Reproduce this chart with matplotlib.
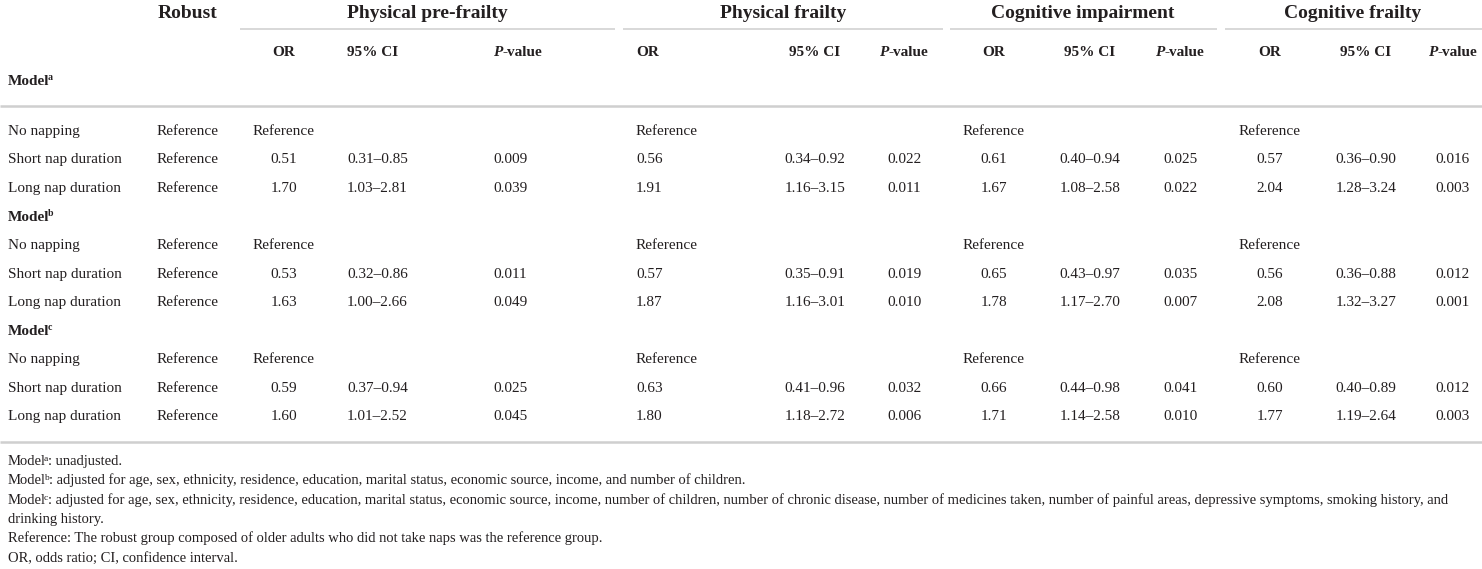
import matplotlib
matplotlib.use("Agg")
import matplotlib.pyplot as plt

# ---------------- data ----------------
groups = ["Robust", "Physical pre-frailty", "Physical frailty", "Cognitive impairment", "Cognitive frailty"]
sub_headers = ["OR", "95% CI", "P-value"]
model_sups = ["a", "b", "c"]
row_labels = ["No napping", "Short nap duration", "Long nap duration"]
robust_vals = ["Reference", "Reference", "Reference"]

# per outcome: [model][row] -> (OR, CI, P); first row of each model is the reference
pre_or = [["Reference", "0.51", "1.70"], ["Reference", "0.53", "1.63"], ["Reference", "0.59", "1.60"]]
pre_ci = [["", "0.31–0.85", "1.03–2.81"], ["", "0.32–0.86", "1.00–2.66"], ["", "0.37–0.94", "1.01–2.52"]]
pre_p = [["", "0.009", "0.039"], ["", "0.011", "0.049"], ["", "0.025", "0.045"]]

pf_or = [["Reference", "0.56", "1.91"], ["Reference", "0.57", "1.87"], ["Reference", "0.63", "1.80"]]
pf_ci = [["", "0.34–0.92", "1.16–3.15"], ["", "0.35–0.91", "1.16–3.01"], ["", "0.41–0.96", "1.18–2.72"]]
pf_p = [["", "0.022", "0.011"], ["", "0.019", "0.010"], ["", "0.032", "0.006"]]

ci_or = [["Reference", "0.61", "1.67"], ["Reference", "0.65", "1.78"], ["Reference", "0.66", "1.71"]]
ci_ci = [["", "0.40–0.94", "1.08–2.58"], ["", "0.43–0.97", "1.17–2.70"], ["", "0.44–0.98", "1.14–2.58"]]
ci_p = [["", "0.025", "0.022"], ["", "0.035", "0.007"], ["", "0.041", "0.010"]]

cf_or = [["Reference", "0.57", "2.04"], ["Reference", "0.56", "2.08"], ["Reference", "0.60", "1.77"]]
cf_ci = [["", "0.36–0.90", "1.28–3.24"], ["", "0.36–0.88", "1.32–3.27"], ["", "0.40–0.89", "1.19–2.64"]]
cf_p = [["", "0.016", "0.003"], ["", "0.012", "0.001"], ["", "0.012", "0.003"]]

footnotes = [
    [("Model", 0), ("a", 1), (": unadjusted.", 0)],
    [("Model", 0), ("b", 1), (": adjusted for age, sex, ethnicity, residence, education, marital status, economic source, income, and number of children.", 0)],
    [("Model", 0), ("c", 1), (": adjusted for age, sex, ethnicity, residence, education, marital status, economic source, income, number of children, number of chronic disease, number of medicines taken, number of painful areas, depressive symptoms, smoking history, and", 0)],
    [("drinking history.", 0)],
    [("Reference: The robust group composed of older adults who did not take naps was the reference group.", 0)],
    [("OR, odds ratio; CI, confidence interval.", 0)],
]

# ---------------- layout ----------------
W, H = 1482, 569
FONT = "Liberation Serif"
TXT = "#231f20"
fig = plt.figure(figsize=(W / 100, H / 100), dpi=100)
ax = fig.add_axes([0, 0, 1, 1])
ax.set_xlim(0, W)
ax.set_ylim(H, 0)
ax.axis("off")
fig.canvas.draw()
renderer = fig.canvas.get_renderer()


def run_text(x, y, runs, size, weight="normal", ha="left"):
    """runs: list of (text, kind) kind 0 normal, 1 superscript, 2 italic"""
    arts = []
    for t, kind in runs:
        s = size * 0.65 if kind == 1 else size
        style = "italic" if kind == 2 else "normal"
        a = ax.text(0, y, t, fontsize=s, fontfamily=FONT, fontweight=weight,
                    fontstyle=style, color=TXT, va="baseline", ha="left")
        arts.append((a, kind))
    widths = [a.get_window_extent(renderer).width for a, k in arts]
    total = sum(widths)
    if ha == "center":
        x0 = x - total / 2
    elif ha == "right":
        x0 = x - total
    else:
        x0 = x
    cur = x0
    for i, ((a, k), w) in enumerate(zip(arts, widths)):
        if k == 1:
            cur -= 2.0
            a.set_position((cur, y - size * 1.389 * 0.30))
            cur += w
        else:
            a.set_position((cur, y))
            cur += w


DS = 11    # data font size
HS = 14    # group header font size
FS = 10.5  # footnote size

# group headers
group_x = [188, 427, 783, 1083, 1353]
for g, gx in zip(groups, group_x):
    ax.text(gx, 18, g, fontsize=HS, fontfamily=FONT, fontweight="bold", color=TXT,
            ha="center", va="baseline")

# underlines
for x0, x1 in [(240, 615), (623, 943), (950, 1217), (1225, 1482)]:
    ax.plot([x0, x1], [29, 29], color="#d6d6d6", lw=1.3, solid_capstyle="butt")

# column specs: (x, ha)
col_specs = [
    [(284, "center"), (347, "left"), (493, "left")],
    [(636, "left"), (815, "center"), (904, "center")],
    [(994, "center"), (1090, "center"), (1180, "center")],
    [(1270, "center"), (1366, "center"), (1453, "center")],
]
outcome_data = [(pre_or, pre_ci, pre_p), (pf_or, pf_ci, pf_p), (ci_or, ci_ci, ci_p), (cf_or, cf_ci, cf_p)]

# sub headers
for specs in col_specs:
    for (cx, ha), name in zip(specs, sub_headers):
        if name == "P-value":
            run_text(cx, 56, [("P", 2), ("-value", 0)], DS, weight="bold", ha=ha)
        else:
            run_text(cx, 56, [(name, 0)], DS, weight="bold", ha=ha)

# rules
ax.plot([0, W], [106, 106], color="#cfcfcf", lw=1.8, solid_capstyle="butt")
ax.plot([0, W], [442, 442], color="#cfcfcf", lw=1.8, solid_capstyle="butt")

model_y = [85, 221, 335]
row_y = [[135, 163, 192], [249, 278, 306], [363, 392, 420]]

for m, sup in enumerate(model_sups):
    run_text(8, model_y[m], [("Model", 0), (sup, 1)], DS, weight="bold")
    for r, lab in enumerate(row_labels):
        y = row_y[m][r]
        run_text(8, y, [(lab, 0)], DS)
        run_text(188, y, [(robust_vals[r], 0)], DS, ha="center")
        for specs, (o_or, o_ci, o_p) in zip(col_specs, outcome_data):
            for (cx, ha), val in zip(specs, [o_or[m][r], o_ci[m][r], o_p[m][r]]):
                if val:
                    run_text(cx, y, [(val, 0)], DS, ha=ha)

foot_y = [465, 484, 504, 523, 542, 562]
for fy, runs in zip(foot_y, footnotes):
    run_text(8, fy, runs, FS)

fig.savefig("out.png", dpi=100)
